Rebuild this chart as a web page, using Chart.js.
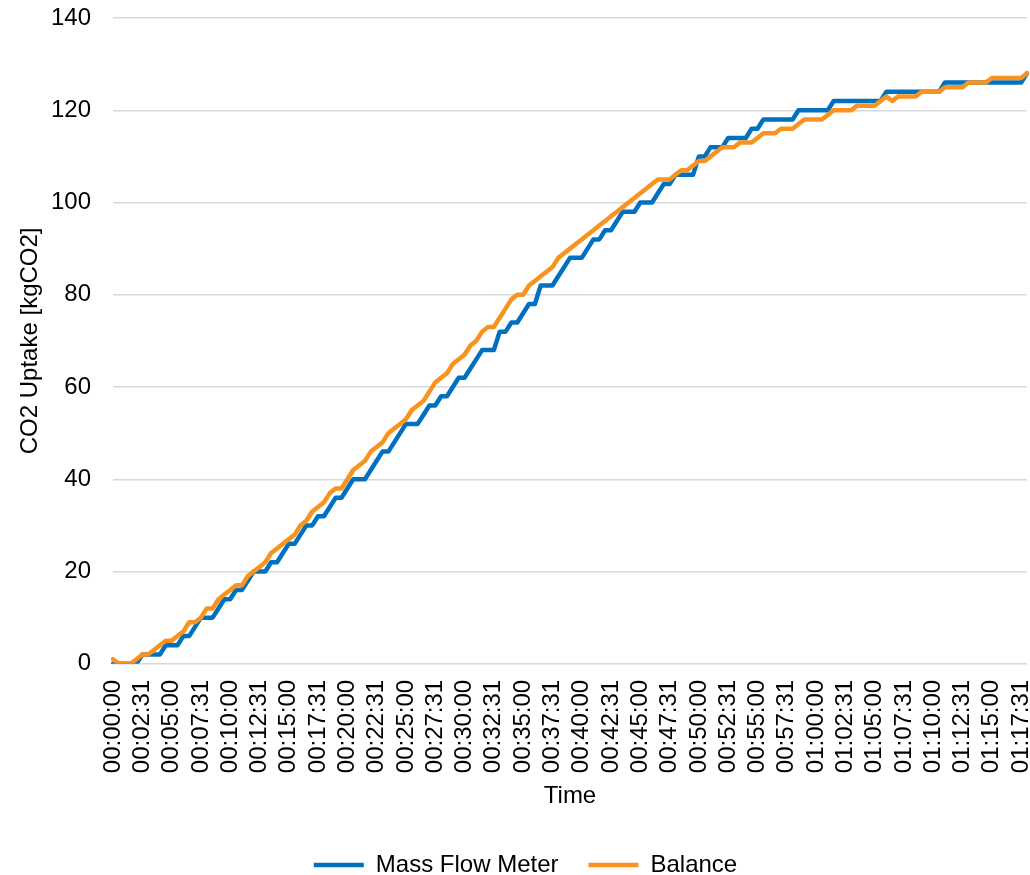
<!DOCTYPE html>
<html>
<head>
<meta charset="utf-8">
<title>CO2 Uptake</title>
<script src="https://cdn.jsdelivr.net/npm/chart.js@4.4.1/dist/chart.umd.min.js"></script>
<style>
    body { margin: 0; background: #fff; }
    #wrap { width: 1030px; height: 875px; }
</style>
</head>
<body>
<div id="wrap"><canvas id="uptakeChart"></canvas></div>
<script>
// Labels shown on the time axis (one every 5 samples)
const tickLabels = [
    '00:00:00', '00:02:31', '00:05:00', '00:07:31', '00:10:00', '00:12:31', '00:15:00', '00:17:31',
    '00:20:00', '00:22:31', '00:25:00', '00:27:31', '00:30:00', '00:32:31', '00:35:00', '00:37:31',
    '00:40:00', '00:42:31', '00:45:00', '00:47:31', '00:50:00', '00:52:31', '00:55:00', '00:57:31',
    '01:00:00', '01:02:31', '01:05:00', '01:07:31', '01:10:00', '01:12:31', '01:15:00', '01:17:31'
];

// CO2 uptake [kgCO2], one sample every ~30 s
const massFlowMeter = [
    0, 0, 0, 0, 0, 2, 2, 2, 2, 4,
    4, 4, 6, 6, 8, 10, 10, 10, 12, 14,
    14, 16, 16, 18, 20, 20, 20, 22, 22, 24,
    26, 26, 28, 30, 30, 32, 32, 34, 36, 36,
    38, 40, 40, 40, 42, 44, 46, 46, 48, 50,
    52, 52, 52, 54, 56, 56, 58, 58, 60, 62,
    62, 64, 66, 68, 68, 68, 72, 72, 74, 74,
    76, 78, 78, 82, 82, 82, 84, 86, 88, 88,
    88, 90, 92, 92, 94, 94, 96, 98, 98, 98,
    100, 100, 100, 102, 104, 104, 106, 106, 106, 106,
    110, 110, 112, 112, 112, 114, 114, 114, 114, 116,
    116, 118, 118, 118, 118, 118, 118, 120, 120, 120,
    120, 120, 120, 122, 122, 122, 122, 122, 122, 122,
    122, 122, 124, 124, 124, 124, 124, 124, 124, 124,
    124, 124, 126, 126, 126, 126, 126, 126, 126, 126,
    126, 126, 126, 126, 126, 126, 128
];

const balance = [
    1, 0, 0, 0, 1, 2, 2, 3, 4, 5,
    5, 6, 7, 9, 9, 10, 12, 12, 14, 15,
    16, 17, 17, 19, 20, 21, 22, 24, 25, 26,
    27, 28, 30, 31, 33, 34, 35, 37, 38, 38,
    40, 42, 43, 44, 46, 47, 48, 50, 51, 52,
    53, 55, 56, 57, 59, 61, 62, 63, 65, 66,
    67, 69, 70, 72, 73, 73, 75, 77, 79, 80,
    80, 82, 83, 84, 85, 86, 88, 89, 90, 91,
    92, 93, 94, 95, 96, 97, 98, 99, 100, 101,
    102, 103, 104, 105, 105, 105, 106, 107, 107, 108,
    109, 109, 110, 111, 112, 112, 112, 113, 113, 113,
    114, 115, 115, 115, 116, 116, 116, 117, 118, 118,
    118, 118, 119, 120, 120, 120, 120, 121, 121, 121,
    121, 122, 123, 122, 123, 123, 123, 123, 124, 124,
    124, 124, 125, 125, 125, 125, 126, 126, 126, 126,
    127, 127, 127, 127, 127, 127, 128
];

// build the category list: every 5th sample uses the printed tick label
function pad(n) { return String(n).padStart(2, '0'); }
const timeLabels = massFlowMeter.map(function(_, i) {
    if (i % 5 === 0 && tickLabels[i / 5]) return tickLabels[i / 5];
    const s = i * 30;
    return pad(Math.floor(s / 3600)) + ':' + pad(Math.floor(s / 60) % 60) + ':' + pad(s % 60);
});

document.addEventListener("DOMContentLoaded", function() {
    Chart.defaults.font.family = '"Liberation Sans", Arial, sans-serif';
    Chart.defaults.font.size = 24;
    Chart.defaults.color = '#000';

    const ctx = document.getElementById('uptakeChart').getContext('2d');

    const data = {
        labels: timeLabels,
        datasets: [{
            label: 'Mass Flow Meter',
            data: massFlowMeter,
            borderColor: '#0070C0',
            backgroundColor: '#0070C0',
            borderWidth: 4.5,
            borderCapStyle: 'round',
            borderJoinStyle: 'round',
            pointRadius: 0,
            tension: 0,
            order: 1
        }, {
            label: 'Balance',
            data: balance,
            borderColor: '#F7931E',
            backgroundColor: '#F7931E',
            borderWidth: 4.5,
            borderCapStyle: 'round',
            borderJoinStyle: 'round',
            pointRadius: 0,
            tension: 0,
            order: 0   // drawn on top
        }]
    };

    const config = {
        type: 'line',
        data: data,
        options: {
            responsive: true,
            maintainAspectRatio: false,
            animation: false,
            // left padding only nudges the legend to the right; the y axis width below compensates
            layout: { padding: { left: 24, right: 3, top: 18, bottom: -12 } },
            plugins: {
                legend: {
                    position: 'bottom',
                    labels: {
                        usePointStyle: true,
                        pointStyle: 'line',
                        pointStyleWidth: 50,
                        padding: 30,
                        sort: function(a, b) { return a.datasetIndex - b.datasetIndex; }
                    }
                },
                tooltip: { enabled: false }
            },
            scales: {
                x: {
                    offset: false,
                    grid: { display: false },
                    border: { display: false },
                    ticks: {
                        autoSkip: false,
                        maxRotation: 90,
                        minRotation: 90,
                        padding: 8,
                        callback: function(value, index) {
                            return index % 5 === 0 ? timeLabels[index] : null;
                        }
                    },
                    title: { display: true, text: 'Time', padding: { top: 1, bottom: 12 } },
                    afterFit: function(scale) {
                        // let the plot run to the canvas edges like the original
                        scale.paddingLeft = 0;
                        scale.paddingRight = 0;
                    }
                },
                y: {
                    min: 0,
                    max: 140,
                    grid: { color: '#d9d9d9', lineWidth: 1.5, drawTicks: false },
                    border: { display: false },
                    ticks: { stepSize: 20, padding: 22 },
                    title: { display: true, text: 'CO2 Uptake [kgCO2]', padding: { top: -8, bottom: 4 } },
                    afterFit: function(scale) {
                        scale.width = 89;
                        scale.paddingTop = 0;
                        scale.paddingBottom = 0;
                    }
                }
            }
        }
    };

    try {
        new Chart(ctx, config);
    } catch (error) {
        console.error("Error creating chart:", error);
    }
});
</script>
</body>
</html>
